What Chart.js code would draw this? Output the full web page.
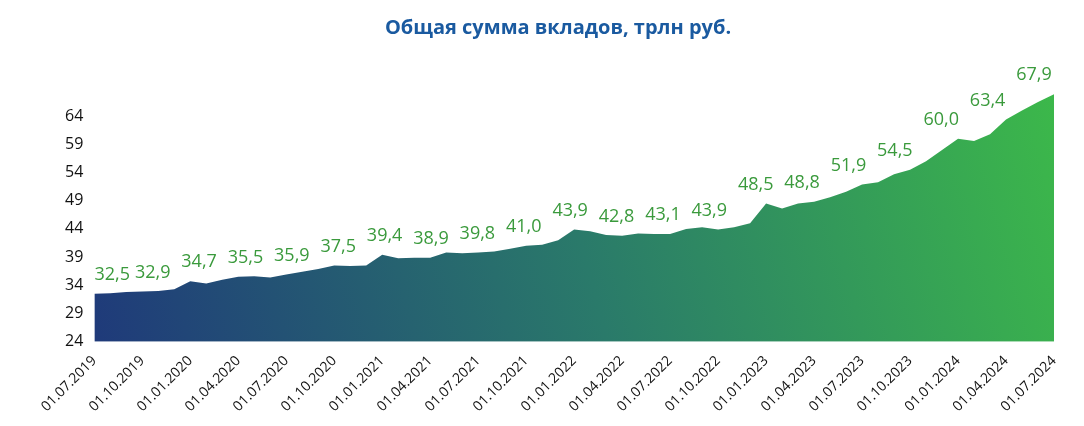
<!DOCTYPE html>
<html><head><meta charset="utf-8">
<script src="https://cdn.jsdelivr.net/npm/chart.js@4"></script>
<style>body{margin:0;background:#fff}#wrap{width:1084px;height:426px}</style>
</head><body><div id="wrap"><canvas id="c"></canvas></div>
<script>
var dates = [];
for (var y = 2019; y <= 2024; y++) {
	for (var m = 1; m <= 12; m++) {
		if ((y == 2019 && m < 7) || (y == 2024 && m > 7)) continue;
		dates.push('01.' + (m < 10 ? '0' + m : m) + '.' + y);
	}
}
var values = [32.5,32.6,32.8,32.9,33.0,33.3,34.7,34.3,35.0,35.5,35.6,35.4,
	35.9,36.4,36.9,37.5,37.4,37.5,39.4,38.8,38.9,38.9,39.8,39.7,
	39.8,40.0,40.5,41.0,41.2,42.0,43.9,43.6,42.9,42.8,43.2,43.1,
	43.1,44.0,44.3,43.9,44.3,45.0,48.5,47.6,48.5,48.8,49.6,50.6,
	51.9,52.3,53.7,54.5,56.0,58.0,60.0,59.6,60.8,63.4,65.0,66.5,67.9];
var yTicks = [24,29,34,39,44,49,54,59,64];

var labelPlugin = {
	id: 'vals',
	afterDatasetsDraw: function(chart){
		var ctx = chart.ctx, meta = chart.getDatasetMeta(0);
		ctx.save();
		ctx.fillStyle = '#3a9a3c';
		ctx.font = '18px "Open Sans"';
		ctx.textAlign = 'center';
		ctx.textBaseline = 'bottom';
		for (var i = 0; i < values.length; i += 3) {
			var p = meta.data[i];
			var x = p.x + 12 - 32 * i / 60;
			if (i == 0) x = p.x + 18;
			ctx.fillText(values[i].toFixed(1).replace('.', ','), x, p.y - 10);
		}
		ctx.restore();
	}
};

var ctx = document.getElementById('c');
new Chart(ctx, {
	type: 'line',
	data: {
		labels: dates,
		datasets: [{
			data: values,
			fill: 'start',
			borderWidth: 0,
			pointRadius: 0,
			tension: 0,
			backgroundColor: function(c){
				var a = c.chart.chartArea;
				if (!a) return '#2a6a5a';
				var g = c.chart.ctx.createLinearGradient(a.left, a.bottom, a.right, a.top);
				g.addColorStop(0, '#1f3a7a');
				g.addColorStop(0.5, '#2a7a6a');
				g.addColorStop(1, '#3cb84a');
				return g;
			}
		}]
	},
	options: {
		responsive: true,
		maintainAspectRatio: false,
		animation: false,
		layout: {padding: {left: 62, right: 30, top: 0, bottom: 8}},
		plugins: {
			legend: {display: false},
			tooltip: {enabled: false},
			title: {
				display: true,
				text: 'Общая сумма вкладов, трлн руб.',
				color: '#1a5aa0',
				font: {family: 'Open Sans', size: 20, weight: 'bold'},
				padding: {top: 16, bottom: 48}
			}
		},
		scales: {
			x: {
				grid: {display: false},
				border: {display: false},
				ticks: {
					autoSkip: false,
					maxRotation: 45, minRotation: 45,
					color: '#111',
					font: {family: 'Open Sans', size: 14},
					callback: function(v, i){ return i % 3 == 0 ? dates[i] : null; }
				}
			},
			y: {
				min: 24, max: 69,
				grid: {display: false},
				border: {display: false},
				afterBuildTicks: function(s){ s.ticks = yTicks.map(function(v){ return {value: v}; }); },
				ticks: {color: '#111', font: {family: 'Open Sans', size: 16}}
			}
		}
	},
	plugins: [labelPlugin]
});
</script>
</body></html>
